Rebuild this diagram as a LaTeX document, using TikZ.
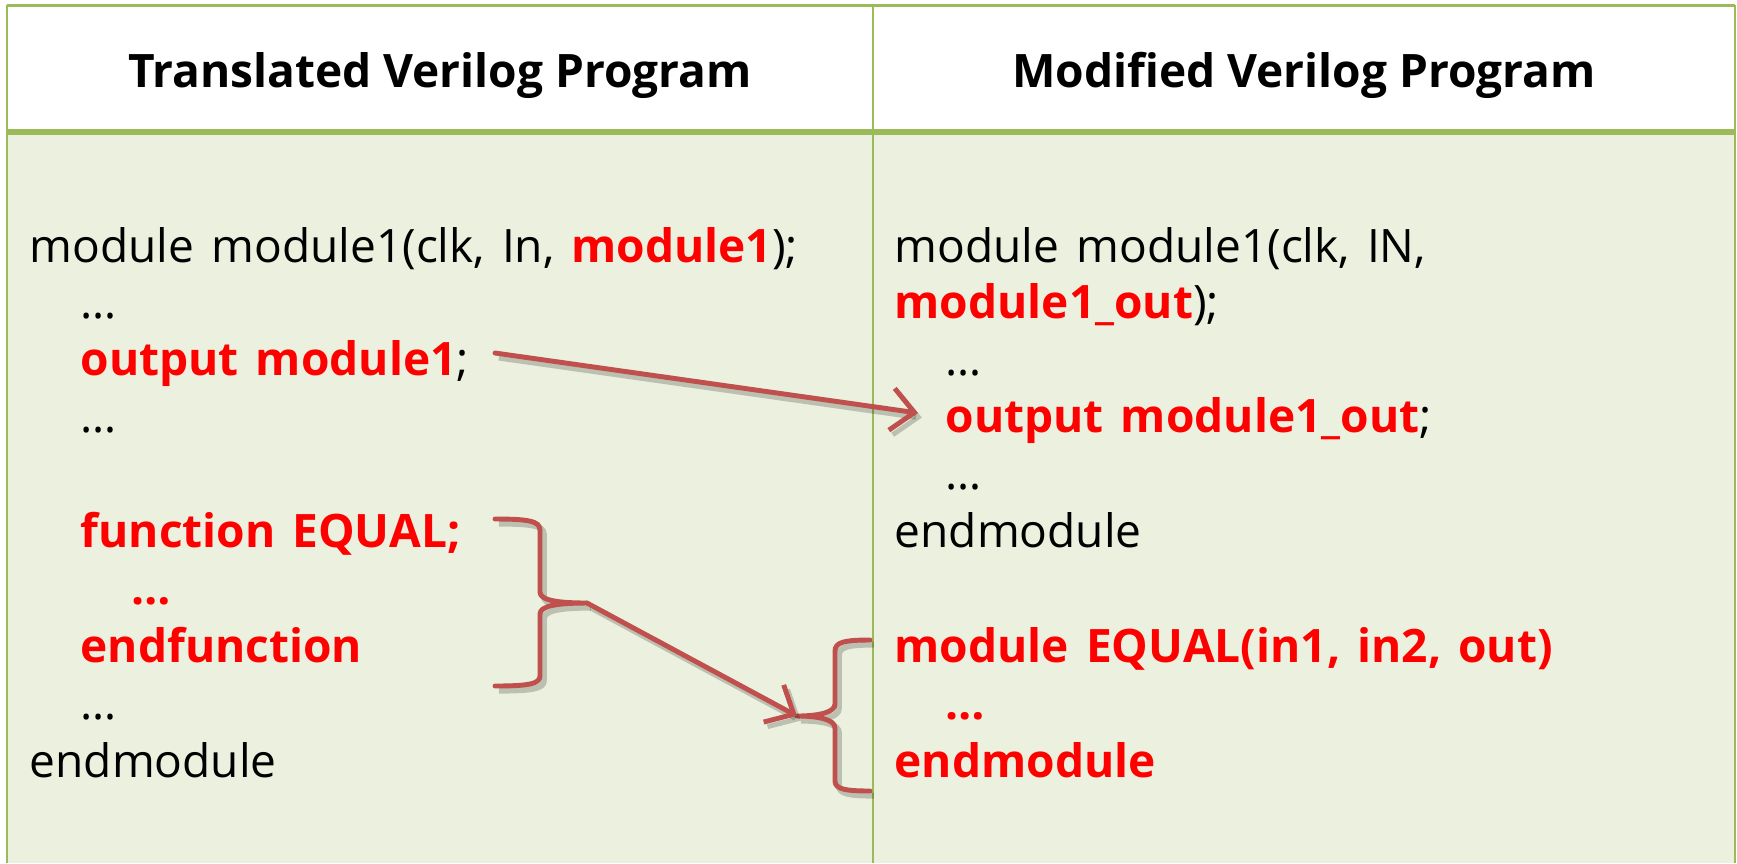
\documentclass[tikz,border=0pt]{standalone}
\usepackage{fontspec}
\setmainfont{Open Sans}
\newfontfamily\codefont{Open Sans}[WordSpace=1.42]
\usetikzlibrary{arrows.meta}

\definecolor{gridgreen}{HTML}{9BBB59}
\definecolor{cellfill}{HTML}{EBF1DE}
\definecolor{linkred}{HTML}{C0504D}
\definecolor{hot}{HTML}{FF0000}

% highlighted (changed) Verilog fragments
\newcommand\kw[1]{\textcolor{hot}{\bfseries #1}}

\begin{document}
\begin{tikzpicture}[x=0.01cm, y=-0.01cm,
  code/.style={anchor=base west, inner sep=0pt, font=\codefont\fontsize{13.1}{15}\selectfont},
  head/.style={anchor=base, inner sep=0pt, font=\fontsize{13.1}{16}\selectfont\bfseries},
  rule/.style={draw=gridgreen},
  link/.style={draw=linkred, line width=1.4pt, line cap=round, line join=round,
    preaction={draw=black, opacity=0.2, line width=1.7pt,
      transform canvas={shift={(1.1pt,-1.3pt)}}}},
  barb/.style={-{Straight Barb[length=6.5pt, width=12pt, line width=1.4pt]}}
]
\useasboundingbox (0,0) rectangle (1737,863);

% table background and grid
\fill[white] (0,0) rectangle (1737,863);
\fill[cellfill] (7,132) rectangle (1735,863);
\draw[rule, line width=0.85pt] (7,5) -- (1735,5);
\draw[rule, line width=0.6pt] (7,5) -- (7,863);
\draw[rule, line width=0.6pt] (1735,5) -- (1735,863);
\draw[rule, line width=0.6pt] (873,5) -- (873,863);
\draw[rule, line width=1.6pt] (7,132) -- (1735,132);

% column headings
\node[head] (hL) at (440,87) {Translated Verilog Program};
\node[head] (hR) at (1304,87) {Modified Verilog Program};

% translated program
\node[code] (l0) at (29,262)   {module module1(clk, In, \kw{module1});};
\node[code] (l1) at (80,318)   {…};
\node[code] (l2) at (80,375)   {\kw{output module1};};
\node[code] (l3) at (80,432)   {…};
\node[code] (l5) at (80,547)   {\kw{function EQUAL;}};
\node[code] (l6) at (131,604)  {\kw{…}};
\node[code] (l7) at (80,662)   {\kw{endfunction}};
\node[code] (l8) at (80,719)   {…};
\node[code] (l9) at (29,777)   {endmodule};

% modified program
\node[code] (r0) at (894,262)   {module module1(clk, IN,};
\node[code] (r1) at (894,318)   {\kw{module1\_out});};
\node[code] (r2) at (945,375)   {…};
\node[code] (r3) at (945,432)   {\kw{output module1\_out};};
\node[code] (r4) at (945,489)   {…};
\node[code] (r5) at (894,547)   {endmodule};
\node[code] (r7) at (894,662)   {\kw{module EQUAL(in1, in2, out)}};
\node[code] (r8) at (945,719)   {\kw{…}};
\node[code] (r9) at (894,777)   {\kw{endmodule}};

% anchor points of the connectors
\coordinate (outFrom) at (495,353);
\coordinate (outTo)   at (918,413);
\coordinate (fnTip)   at (587,603);
\coordinate (modTip)  at (797,716);

% brace grouping the function block
\draw[link] (495,519) .. controls (528,519) and (540,521) .. (540,530)
  -- (540,592) .. controls (540,600) and (556,603) .. (fnTip)
  .. controls (556,603) and (540,606) .. (540,614)
  -- (540,676) .. controls (540,684) and (528,686) .. (495,686);

% brace grouping the new module
\draw[link] (870,640) .. controls (845,640) and (835,642) .. (835,651)
  -- (835,704) .. controls (835,712) and (820,716) .. (modTip)
  .. controls (820,716) and (835,720) .. (835,728)
  -- (835,781) .. controls (835,789) and (845,791) .. (870,791);

% connectors
\draw[link, barb] (outFrom) -- (outTo);
\draw[link, barb] (fnTip) -- (modTip);
\end{tikzpicture}
\end{document}
